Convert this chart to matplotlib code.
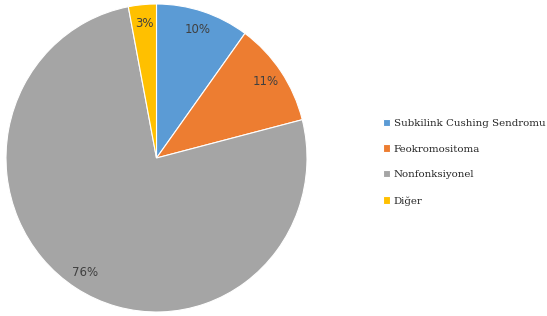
import matplotlib.pyplot as plt

# Data
labels = ["Subkilink Cushing Sendromu", "Feokromositoma", "Nonfonksiyonel", "Diğer"]
shares = [10, 11, 76, 3]
colors = ["#5B9BD5", "#ED7D31", "#A5A5A5", "#FFC000"]

fig = plt.figure(figsize=(5.47, 3.16), dpi=100)
ax = fig.add_axes([6 / 547, 4 / 316, 301 / 547, 308 / 316])

wedges, texts, autotexts = ax.pie(
    shares, colors=colors, startangle=90, counterclock=False,
    autopct="%1.0f%%", pctdistance=0.88,
    wedgeprops=dict(edgecolor="white", linewidth=0.8),
    textprops=dict(color="#404040", fontsize=8.5),
)
ax.set_aspect("auto")
ax.set_xlim(-1.0, 1.0)
ax.set_ylim(-1.0, 1.0)

fig.legend(wedges, labels, loc="center left", bbox_to_anchor=(374 / 547, 0.487),
           frameon=False, handlelength=0.7, handleheight=0.7, handletextpad=0.3,
           labelspacing=1.62, prop=dict(family="DejaVu Serif", size=7.4),
           labelcolor="#262626")

fig.savefig("out.png", dpi=100)
